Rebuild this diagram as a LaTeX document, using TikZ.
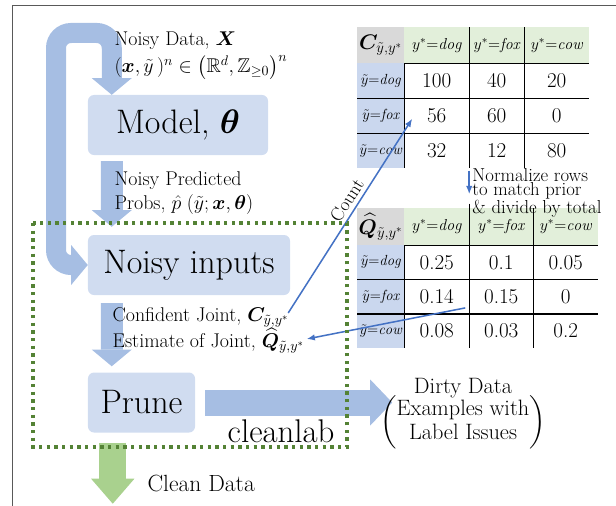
\documentclass[tikz,border=0pt]{standalone}
\usepackage{fix-cm}
\usepackage{amsmath,amssymb,bm}
\usepackage{fontspec}
\usetikzlibrary{arrows.meta,calc,positioning,matrix}

\definecolor{fatblue}{RGB}{166,190,227}
\definecolor{boxblue}{RGB}{208,220,240}
\definecolor{fatgreen}{RGB}{169,209,142}
\definecolor{framegreen}{RGB}{84,130,53}
\definecolor{linkblue}{RGB}{68,114,196}
\definecolor{headgray}{RGB}{217,217,217}
\definecolor{headgreen}{RGB}{226,239,218}
\definecolor{rowblue}{RGB}{202,215,238}

\tikzset{
  fattip/.tip={Triangle[width=1.2cm, length=0.5cm, line width=0pt]},
  widetip/.tip={Triangle[width=1.38cm, length=0.66cm, line width=0pt]},
  greentip/.tip={Triangle[width=1.3cm, length=0.75cm, line width=0pt]}
}

\begin{document}
\begin{tikzpicture}[x=0.03cm, y=-0.03cm,
  stage/.style={rounded corners=0.18cm, fill=boxblue, minimum height=1.8cm, font=\fontsize{29}{32}\selectfont},
  note/.style={align=left, inner sep=2pt, font=\fontsize{17}{20}\selectfont},
  fat/.style={line width=0.66cm, fatblue, -fattip},
  link/.style={linkblue, line width=1.3pt, -{Latex[length=7pt, width=5.5pt]}},
  cleanframe/.style={framegreen, line width=0.1cm, dash pattern=on 0.1cm off 0.13cm},
  grid table/.style={matrix of nodes, inner sep=0pt, column sep=0pt, row sep=0pt,
    nodes={inner sep=0pt, outer sep=0pt, anchor=center, minimum height=1.05cm, font=\fontsize{18}{20}\selectfont}},
  cornercell/.style={fill=headgray, font=\fontsize{18}{20}\selectfont},
  colhead/.style={fill=headgreen, font=\fontsize{13.5}{15}\selectfont},
  rowhead/.style={fill=rowblue, font=\fontsize{12.5}{14}\selectfont},
  gridline/.style={line width=1.2pt}
]
\useasboundingbox (0,0) rectangle (616,506);
\draw[black!65, line width=0.8pt] (616,5) -- (12,5) -- (12,506);

% pipeline boxes
\node[stage, minimum width=5.4cm] (model) at (178,125) {Model, $\bm{\theta}$};
\node[stage, minimum width=6.06cm] (noisy) at (189,265) {Noisy inputs};
\node[stage, minimum width=3.21cm] (prune) at (141.5,402.5) {Prune};

% fat arrows (under the labels)
\draw[fat, fattip-fattip, line width=0.6cm, rounded corners=0.45cm] ($(model.north west)+(24,0)$) |- (56,33) |- (noisy.west);
\draw[fat] ($(model.south west)+(24,6)$) -- ($(noisy.north west)+(24,-8)$);
\draw[fat] ($(noisy.south west)+(24,8)$) -- ($(prune.north west)+(24,-6)$);
\draw[fat, line width=0.78cm, -widetip] ($(prune.east)+(10,0)$) -- ($(prune.east)+(197,0)$);
\draw[fat, fatgreen, line width=0.8cm, -greentip] ($(prune.south west)+(25,10)$) -- ($(prune.south west)+(25,71)$);

% labels beside the fat arrows
\node[note, anchor=west] (datatxt) at (112,56) {Noisy Data, $\bm{X}$\\[3pt] $(\bm{x},\tilde{y}\,)^n\in\bigl(\mathbb{R}^d,\mathbb{Z}_{\geq 0}\bigr)^n$};
\node[note, anchor=west] (probtxt) at (112,193) {Noisy Predicted\\ Probs, $\hat{p}\;(\tilde{y};\bm{x},\bm{\theta})$};
\node[note, anchor=west] (conf) at (110,317) {Confident Joint, $\bm{C}_{\tilde{y},y^*}$};
\node[note, anchor=west] (est) at (110,341) {Estimate of Joint, $\widehat{\bm{Q}}_{\tilde{y},y^*}$};
\node[note, anchor=west, font=\fontsize{20}{24}\selectfont] (clean) at (145,483) {Clean Data};
\node[anchor=base east, inner sep=2pt, font=\fontsize{28}{32}\selectfont] (brand) at (337,442) {cleanlab};
\node[align=center, font=\fontsize{19}{21}\selectfont] (dirty) at (463,414) {Dirty Data\\[-3pt] $\left(\text{\begin{tabular}{@{}c@{}}Examples with\\[-1pt] Label Issues\end{tabular}}\right)$};

% confident joint counts
\matrix (ctab) [grid table, anchor=north west,
  column 1/.style={nodes={minimum width=1.41cm}},
  column 2/.style={nodes={minimum width=1.95cm}},
  column 3/.style={nodes={minimum width=1.65cm}},
  column 4/.style={nodes={minimum width=1.95cm}},
  row 1/.style={nodes={minimum height=1.08cm}}] at (357,27) {
  |[cornercell]| $\bm{C}_{\tilde{y},y^*}$ & |[colhead]| $y^*{=}\mathit{dog}$ & |[colhead]| $y^*{=}\mathit{fox}$ & |[colhead]| $y^*{=}\mathit{cow}$ \\
  |[rowhead]| $\tilde{y}{=}\mathit{dog}$ & 100 & 40 & 20 \\
  |[rowhead]| $\tilde{y}{=}\mathit{fox}$ & 56 & 60 & 0 \\
  |[rowhead]| $\tilde{y}{=}\mathit{cow}$ & 32 & 12 & 80 \\
};
\draw[gridline] (ctab-1-2.south west) -- (ctab-1-4.south east)
  (ctab-2-1.south west) -- (ctab-2-4.south east)
  (ctab-3-1.south west) -- (ctab-3-4.south east)
  (ctab-2-2.north west) -- (ctab-4-2.south west)
  (ctab-1-3.north west) -- (ctab-4-3.south west)
  (ctab-1-4.north west) -- (ctab-4-4.south west);

% estimated joint
\matrix (qtab) [grid table, anchor=north west,
  column 1/.style={nodes={minimum width=1.41cm}},
  column 2/.style={nodes={minimum width=1.95cm}},
  column 3/.style={nodes={minimum width=1.92cm}},
  column 4/.style={nodes={minimum width=1.95cm}},
  nodes={minimum height=1.03cm},
  row 1/.style={nodes={minimum height=1.11cm}}] at (357,208) {
  |[cornercell]| $\widehat{\bm{Q}}_{\tilde{y},y^*}$ & |[colhead]| $y^*{=}\mathit{dog}$ & |[colhead]| $y^*{=}\mathit{fox}$ & |[colhead]| $y^*{=}\mathit{cow}$ \\
  |[rowhead]| $\tilde{y}{=}\mathit{dog}$ & 0.25 & 0.1 & 0.05 \\
  |[rowhead]| $\tilde{y}{=}\mathit{fox}$ & 0.14 & 0.15 & 0 \\
  |[rowhead]| $\tilde{y}{=}\mathit{cow}$ & 0.08 & 0.03 & 0.2 \\
};
\draw[gridline] (qtab-1-2.south west) -- (qtab-1-4.south east)
  (qtab-2-1.south west) -- (qtab-2-4.south east)
  (qtab-3-1.south west) -- (qtab-3-4.south east)
  (qtab-2-2.north west) -- (qtab-4-2.south west)
  ([yshift=4pt]qtab-1-3.north west) -- (qtab-4-3.south west)
  (qtab-1-4.north west) -- (qtab-4-4.south west);

% thin connectors
\draw[link] ([yshift=-2pt]ctab-4-3.south west) -- ([yshift=12pt]qtab-1-3.north west);
\node[anchor=west, align=left, inner sep=1pt, font=\fontsize{16}{12.5}\selectfont] (normtxt) at (471,193) {Normalize rows\\ to match prior\\ \& divide by total};
\draw[link] ($(conf.east)+(-3,-4)$) -- node[pos=0.55, sloped, above, text=black, font=\fontsize{16}{18}\selectfont] (countlbl) {Count} ($(ctab-3-2.west)+(8,3)$);
\draw[link] ($(qtab-3-2.south east)+(-4,-6)$) -- ($(est.east)+(0,-2)$);

% cleanlab boundary
\draw[cleanframe] (33,223) rectangle (347,447);
\end{tikzpicture}
\end{document}
